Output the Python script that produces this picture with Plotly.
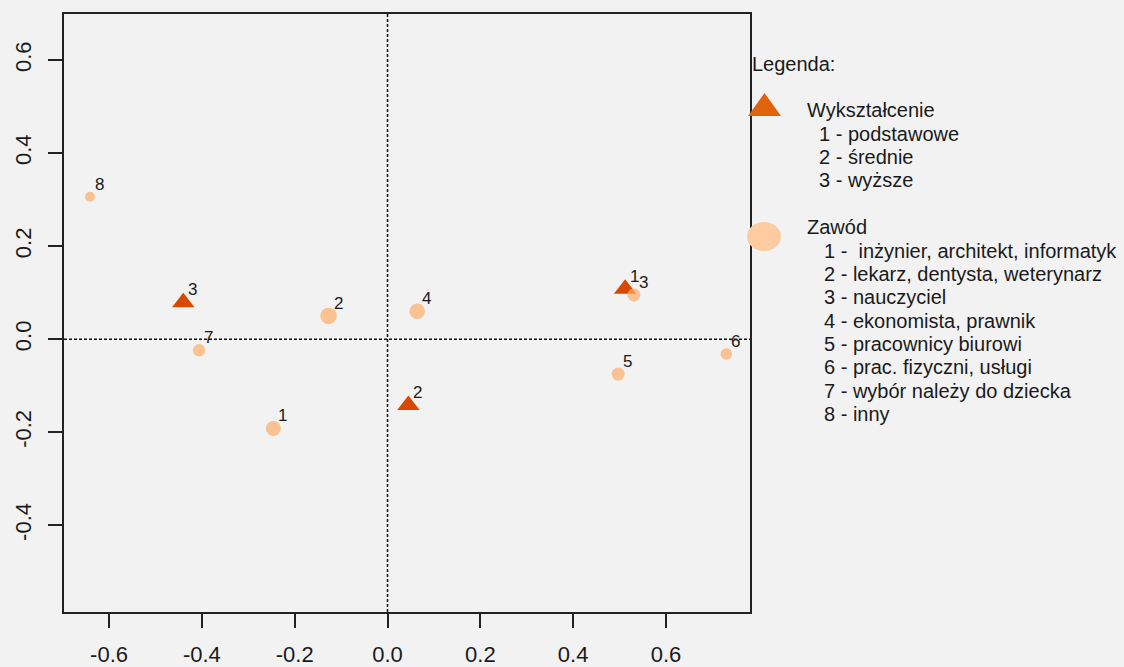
import plotly.graph_objects as go

# ---------------- data ----------------
wyk_labels = ["1", "2", "3"]
wyk_x = [0.512, 0.045, -0.440]
wyk_y = [0.108, -0.142, 0.079]

zaw_labels = ["1", "2", "3", "4", "5", "6", "7", "8"]
zaw_x = [-0.246, -0.127, 0.531, 0.064, 0.497, 0.730, -0.406, -0.641]
zaw_y = [-0.192, 0.050, 0.095, 0.060, -0.075, -0.032, -0.024, 0.306]

x_ticks = [-0.6, -0.4, -0.2, 0.0, 0.2, 0.4, 0.6]
y_ticks = [-0.4, -0.2, 0.0, 0.2, 0.4, 0.6]

legend_title = "Legenda:"
wyk_title = "Wykształcenie"
wyk_items = ["1 - podstawowe", "2 - średnie", "3 - wyższe"]
zaw_title = "Zawód"
zaw_items = ["1 - \u00a0inżynier, architekt, informatyk",
             "2 - lekarz, dentysta, weterynarz",
             "3 - nauczyciel",
             "4 - ekonomista, prawnik",
             "5 - pracownicy biurowi",
             "6 - prac. fizyczni, usługi",
             "7 - wybór należy do dziecka",
             "8 - inny"]

# ---------------- style ----------------
W, H = 1124, 667
ML, MR, MT, MB = 64, 374, 14, 55
BG = "#F2F2F2"
TRI_COL = "#D94801"
CIR_COL = "#FDAE6B"
LEG_TRI_COL = "#E0620B"
LEG_CIR_COL = "#FCCBA0"
zaw_marker_px = [15, 16.5, 13, 15.5, 13, 11.5, 12.5, 10]
FONT = "Liberation Sans, Arial, sans-serif"

PW = W - ML - MR
PH = H - MT - MB


def px2paper_x(px):
    return (px - ML) / PW


def px2paper_y(py):
    return (H - MB - py) / PH


fig = go.Figure()

fig.add_trace(go.Scatter(
    x=wyk_x, y=wyk_y, mode="markers",
    marker=dict(symbol="triangle-up", size=19.5, color=TRI_COL, line=dict(width=0)),
    showlegend=False, hoverinfo="skip"))

fig.add_trace(go.Scatter(
    x=zaw_x, y=zaw_y, mode="markers",
    marker=dict(symbol="circle", size=zaw_marker_px, color=CIR_COL, line=dict(width=0)),
    showlegend=False, hoverinfo="skip"))

annotations = []
for lab, x, y in list(zip(wyk_labels, wyk_x, wyk_y)) + list(zip(zaw_labels, zaw_x, zaw_y)):
    annotations.append(dict(x=x, y=y, xref="x", yref="y", text=lab, showarrow=False,
                            xanchor="center", yanchor="middle", xshift=9.5, yshift=12.5,
                            font=dict(family=FONT, size=17, color="#1a1a1a")))

# legend texts (baselines in px -> middle)
LEG_FS = 20


def leg_text(txt, px_left, baseline):
    mid = baseline - 7
    annotations.append(dict(x=px2paper_x(px_left), y=px2paper_y(mid), xref="paper", yref="paper",
                            text=txt, showarrow=False, xanchor="left", yanchor="middle",
                            font=dict(family=FONT, size=LEG_FS, color="#1a1a1a")))


leg_text(legend_title, 749.5, 71)
leg_text(wyk_title, 805, 117.3)
for i, t in enumerate(wyk_items):
    leg_text(t, 817, 140.7 + i * 23.33)
leg_text(zaw_title, 805, 234.3)
for i, t in enumerate(zaw_items):
    leg_text(t, 822, 257.7 + i * 23.33)

shapes = [
    dict(type="line", xref="x", yref="paper", x0=0, x1=0, y0=0, y1=1,
         line=dict(color="#111", width=1.5, dash="3px,2px"), layer="below"),
    dict(type="line", xref="paper", yref="y", x0=0, x1=1, y0=0, y1=0,
         line=dict(color="#111", width=1.5, dash="3px,2px"), layer="below"),
    # legend glyphs (pixel-sized around anchor)
    dict(type="path", xref="paper", yref="paper", xsizemode="pixel", ysizemode="pixel",
         xanchor=px2paper_x(764.5), yanchor=px2paper_y(104.5),
         path="M -16.5 -11.5 L 16.5 -11.5 L 0 11.5 Z",
         fillcolor=LEG_TRI_COL, line=dict(width=0)),
    dict(type="circle", xref="paper", yref="paper", xsizemode="pixel", ysizemode="pixel",
         xanchor=px2paper_x(764), yanchor=px2paper_y(236.5),
         x0=-17, x1=17, y0=-14.5, y1=14.5,
         fillcolor=LEG_CIR_COL, line=dict(width=0)),
]

axis_common = dict(showgrid=False, zeroline=False, showline=True, mirror=True,
                   automargin=False,
                   linecolor="#222", linewidth=1.5, ticks="outside", ticklen=14,
                   tickwidth=1.5, tickcolor="#222",
                   tickfont=dict(family=FONT, size=22, color="#1a1a1a"))

fig.update_layout(
    width=W, height=H,
    margin=dict(l=ML, r=MR, t=MT, b=MB),
    paper_bgcolor=BG, plot_bgcolor=BG,
    xaxis=dict(range=[-0.697, 0.781], tickvals=x_ticks,
               ticktext=[f"{v:.1f}" for v in x_ticks], ticklabelstandoff=8, **axis_common),
    yaxis=dict(range=[-0.5865, 0.699], tickvals=y_ticks,
               ticktext=[f"{v:.1f}" for v in y_ticks], tickangle=-90,
               ticklabelstandoff=8, **axis_common),
    annotations=annotations,
    shapes=shapes,
    showlegend=False,
)

fig.write_html(
    "out.html",
    config={"displayModeBar": False},
    post_script="document.body.style.margin='0';document.body.style.padding='0';"
                "document.body.style.background='#F2F2F2';"
                "document.documentElement.style.overflow='hidden';",
)
